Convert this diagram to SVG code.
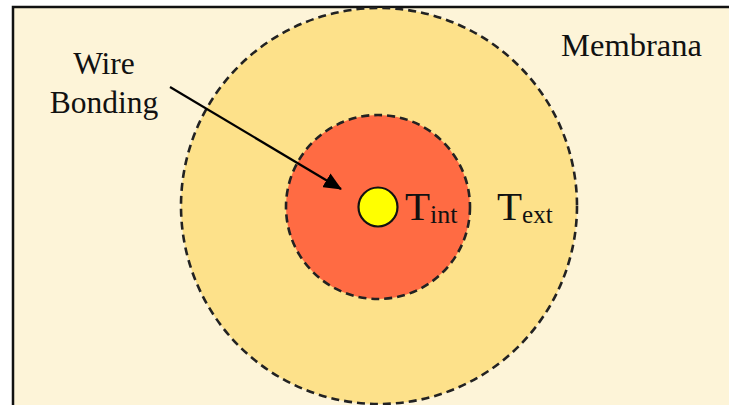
<svg xmlns="http://www.w3.org/2000/svg" width="729" height="405" viewBox="0 0 729 405">
<style>
.zone{stroke:#222;stroke-width:2.6;stroke-dasharray:8 5}
.lbl{font-family:"Liberation Serif","Times New Roman",serif;fill:#111}
</style>
<defs>
<marker id="ah" markerWidth="18" markerHeight="16" refX="17" refY="8" orient="auto" markerUnits="userSpaceOnUse" viewBox="0 0 18 16">
<path d="M0,0 L18,8 L0,16 z" fill="#000"/>
</marker>
</defs>
<rect width="729" height="405" fill="#fff"/>
<g id="membrana">
<rect x="13" y="7" width="730" height="400" fill="#FDF4D8" stroke="#111" stroke-width="2.5"/>
<text class="lbl" x="631.5" y="56" font-size="32.5" text-anchor="middle">Membrana</text>
</g>
<g id="text-zone">
<circle class="zone" cx="379" cy="206" r="198" fill="#FDE18A"/>
<text class="lbl" x="497" y="220" font-size="41">T<tspan font-size="25" dy="3">ext</tspan></text>
</g>
<g id="tint-zone">
<circle class="zone" cx="378" cy="207" r="92" fill="#FF6B43"/>
<text class="lbl" x="405" y="220" font-size="41">T<tspan font-size="26" dy="3">int</tspan></text>
</g>
<g id="wire-bond">
<circle cx="378" cy="207" r="19.5" fill="#FFFF00" stroke="#111" stroke-width="2.2"/>
</g>
<g id="wire-label">
<text class="lbl" x="104" y="74" font-size="31.5" text-anchor="middle">Wire</text>
<text class="lbl" x="104" y="113" font-size="31.5" text-anchor="middle">Bonding</text>
</g>
<g id="connectors">
<line x1="170" y1="87" x2="341" y2="189" stroke="#000" stroke-width="2.2" marker-end="url(#ah)"/>
</g>
</svg>
